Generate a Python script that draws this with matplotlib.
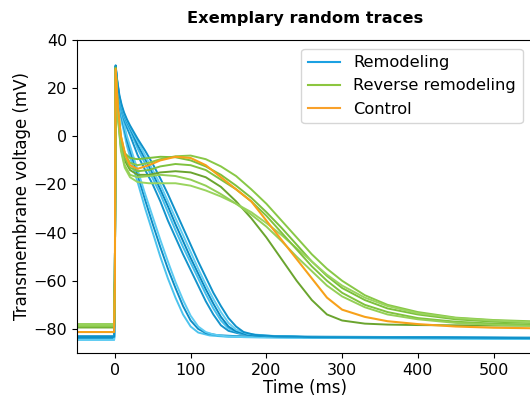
import matplotlib
matplotlib.use("Agg")
import matplotlib.pyplot as plt

# remodeling traces (time ms, voltage mV)
remod_t = [
    [-50, -1, 0, 1, 3, 6, 9, 12, 16, 20, 30, 40, 50, 60, 70, 80, 90, 100, 110, 125, 150, 250, 548],
    [-50, -1, 0, 1, 3, 6, 9, 12, 16, 20, 30, 40, 50, 60, 70, 80, 90, 100, 110, 120, 135, 160, 250, 548],
    [-50, -1, 0, 1, 3, 6, 9, 12, 16, 20, 30, 40, 50, 60, 70, 80, 90, 100, 110, 120, 130, 145, 170, 250, 548],
    [-50, -1, 0, 1, 3, 6, 9, 12, 16, 20, 30, 40, 50, 60, 70, 80, 90, 100, 110, 120, 130, 140, 150, 165, 190, 250, 548],
    [-50, -1, 0, 1, 3, 6, 9, 12, 16, 20, 30, 40, 50, 60, 70, 80, 90, 100, 110, 120, 130, 140, 150, 165, 190, 250, 548],
    [-50, -1, 0, 1, 3, 6, 9, 12, 16, 20, 30, 40, 50, 60, 70, 80, 90, 100, 110, 120, 130, 140, 150, 160, 175, 200, 250, 548],
    [-50, -1, 0, 1, 3, 6, 9, 12, 16, 20, 30, 40, 50, 60, 70, 80, 90, 100, 110, 120, 130, 140, 150, 160, 175, 200, 250, 548],
    [-50, -1, 0, 1, 3, 6, 9, 12, 16, 20, 30, 40, 50, 60, 70, 80, 90, 100, 110, 120, 130, 140, 150, 160, 170, 185, 210, 260, 548],
]
remod_v = [
    [-84.2, -84.2, -60, 29.0, 20, 12, 6, 2, -4, -8.5, -19, -30, -40, -50, -59, -67, -74, -79, -81.5, -82.7, -83.3, -83.7, -84.1],
    [-83.5, -83.5, -60, 28.5, 21, 13, 8, 4, -1.5, -6, -16, -26.5, -36.5, -46, -55, -63, -70.5, -76.5, -80, -81.7, -82.6, -83.0, -83.4, -83.8],
    [-84.5, -84.5, -60, 28.0, 21.5, 14, 9, 5, 0, -4, -14, -24, -33.5, -43, -52, -60.5, -68, -74.5, -79, -81.3, -82.3, -83.0, -83.4, -83.7, -84.2],
    [-83.0, -83.0, -60, 29.0, 22, 15, 10.5, 7, 3.5, 0.5, -7.8, -14, -20, -27, -35, -42, -49, -55.5, -62, -68.5, -74, -78.5, -80.8, -82, -82.8, -83.2, -83.6],
    [-84.0, -84.0, -60, 28.5, 22.5, 15.5, 11, 8, 5, 2.5, -5, -11.5, -17.5, -24, -31.5, -39, -46, -52.5, -59, -65.5, -71.5, -76.5, -79.8, -81.8, -82.8, -83.3, -83.8],
    [-83.6, -83.6, -60, 29.2, 23, 16, 12, 9, 6, 3.5, -3.5, -9.5, -15.5, -22, -29, -36.5, -43.5, -50.5, -57, -63.5, -69.5, -75, -79, -81, -82.4, -83.0, -83.4, -83.9],
    [-84.6, -84.6, -60, 28.8, 23, 16.5, 12.5, 9.5, 6.5, 4, -2, -8, -14, -20, -27, -34, -41, -48, -55, -61.5, -67.5, -73, -77.5, -80.3, -82, -82.8, -83.4, -84.0],
    [-83.3, -83.3, -60, 29.5, 23.5, 17, 13, 10, 7, 4.5, -1, -6, -11.5, -17.5, -24, -31, -38, -45, -52, -58.5, -65, -70.5, -75.5, -79, -81.3, -82.5, -83.0, -83.4, -83.8],
]
remod_colors = ["#4cc3ee", "#0e8cc4", "#5ccbf2", "#1493cc", "#45bfec", "#0b88c0", "#62cdf2", "#0f91ca"]

# reverse remodeling traces
rev_t = [-50, -1, 0, 1, 4, 8, 13, 20, 30, 45, 60, 80, 100, 120, 140, 160, 180, 200, 220, 240, 260, 280, 300, 330, 360, 400, 450, 500, 548]
rev_v = [
    [-78.0, -78.0, -60, 28.0, 12, 0, -7, -11, -12, -11, -9.5, -8.3, -8.0, -9.5, -12.5, -16.5, -22, -28, -35, -42, -49, -55, -60, -66, -70, -73, -75.3, -76.3, -76.8],
    [-79.0, -79.0, -60, 28.5, 10, -2, -7, -9, -9.5, -9, -8.5, -8.7, -10, -12.5, -16, -20.5, -25.5, -31.5, -38, -45, -52, -58, -63, -68, -71.5, -74, -76, -77, -77.5],
    [-79.4, -79.4, -60, 28.0, 9, -4, -10, -14, -16, -16, -15, -14.5, -15, -17, -21, -27, -34, -42, -51, -60, -68, -74, -76.5, -77.8, -78.2, -78.4, -78.5, -78.6, -78.6],
    [-78.2, -78.2, -60, 27.0, 8, -6, -13, -17, -19, -19.5, -19.5, -19.5, -20.5, -22.5, -25, -28, -31.5, -36, -41, -46.5, -52, -57.5, -62, -67, -70.5, -73.5, -75.5, -76.5, -77.2],
    [-79.0, -79.0, -60, 28.5, 10, -3, -9, -13, -14.5, -14, -12.5, -11.5, -12, -14, -18, -22, -27, -33, -40, -47, -54, -60, -65, -70, -73, -75.5, -77, -77.8, -78.2],
    [-78.6, -78.6, -60, 27.5, 8, -5, -12, -16, -17, -16.5, -16, -16.5, -18, -20.5, -24, -28, -32.5, -37.5, -43.5, -50, -56, -62, -66.5, -71, -74, -76, -77.5, -78.3, -78.7],
]
rev_colors = ["#88c846", "#7cc03c", "#6aa42e", "#9ad45e", "#80c23e", "#94cf56"]

# control trace
ctrl_t = [-50, -1, 0, 1, 4, 8, 14, 20, 30, 45, 60, 80, 100, 120, 140, 160, 180, 200, 220, 240, 260, 280, 300, 330, 360, 400, 450, 500, 548]
ctrl_v = [-81.3, -81.3, -60, 28.0, 12, 0, -8, -12, -13.5, -12, -10, -8.5, -9, -12, -17, -22, -27, -35, -43, -51, -59, -67, -72, -75, -76.8, -78, -79, -79.5, -79.7]

fig = plt.figure(figsize=(5.3, 3.99), dpi=100)
ax = fig.add_axes([77 / 530, 46 / 399, 456 / 530, 313 / 399])

for t, v, c in zip(remod_t, remod_v, remod_colors):
    ax.plot(t, v, color=c, lw=1.4)
for v, c in zip(rev_v, rev_colors):
    ax.plot(rev_t, v, color=c, lw=1.4)
ax.plot(ctrl_t, ctrl_v, color="#f7a11a", lw=1.5)

# legend handles
ax.plot([], [], color="#1ba1e2", lw=1.5, label="Remodeling")
ax.plot([], [], color="#8cc63f", lw=1.5, label="Reverse remodeling")
ax.plot([], [], color="#f9a12a", lw=1.5, label="Control")
ax.legend(loc="upper right", fontsize=11.7, bbox_to_anchor=(0.995, 0.998))

ax.set_xlim(-50, 552)
ax.set_ylim(-90, 40)
ax.set_xticks([0, 100, 200, 300, 400, 500])
ax.set_yticks([-80, -60, -40, -20, 0, 20, 40])
ax.tick_params(labelsize=11.5)
ax.set_xlabel("Time (ms)", fontsize=12, labelpad=1)
ax.set_ylabel("Transmembrane voltage (mV)", fontsize=12, labelpad=2)
ax.set_title("Exemplary random traces", fontsize=11.7, fontweight="bold", pad=12)

fig.savefig("out.png", dpi=100)
